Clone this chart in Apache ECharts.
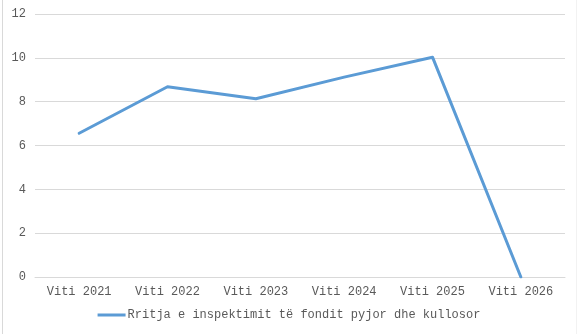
<!DOCTYPE html>
<html>
<head>
<meta charset="utf-8">
<script src="https://cdn.jsdelivr.net/npm/echarts@6/dist/echarts.min.js"></script>
<style>html,body{margin:0;padding:0;background:#fff;}#c{width:578px;height:334px;}</style>
</head>
<body>
<div id="c"></div>
<script>
var categories = ["Viti 2021", "Viti 2022", "Viti 2023", "Viti 2024", "Viti 2025", "Viti 2026"];
var seriesName = "Rritja e inspektimit të fondit pyjor dhe kullosor";
var values = [6.56, 8.68, 8.13, 9.12, 10.03, 0];
var yTicks = { min: 0, max: 12, interval: 2 };

var chart = echarts.init(document.getElementById('c'), null, { renderer: 'canvas' });
var font = '"Liberation Mono", "DejaVu Sans Mono", monospace';
chart.setOption({
  animation: false,
  backgroundColor: '#ffffff',
  textStyle: { fontFamily: font },
  grid: { left: 35, right: 13, top: 14, bottom: 57 },
  xAxis: {
    type: 'category',
    data: categories,
    boundaryGap: true,
    axisLine: { show: true, lineStyle: { color: '#D9D9D9', width: 1 } },
    axisTick: { show: false },
    axisLabel: { color: '#595959', fontSize: 12, fontFamily: font, margin: 9 }
  },
  yAxis: {
    type: 'value',
    min: yTicks.min, max: yTicks.max, interval: yTicks.interval,
    axisLine: { show: false },
    axisTick: { show: false },
    splitLine: { lineStyle: { color: '#D9D9D9', width: 1 } },
    axisLabel: { color: '#595959', fontSize: 12, fontFamily: font, margin: 9 }
  },
  legend: {
    bottom: 8,
    left: 'center',
    itemWidth: 28,
    itemHeight: 3,
    itemGap: 10,
    icon: 'rect',
    textStyle: { color: '#595959', fontSize: 12, fontFamily: font, padding: [0, 0, 0, -3] },
    data: [seriesName]
  },
  graphic: [
    { type: 'line', shape: { x1: 2.5, y1: 0, x2: 2.5, y2: 334 }, style: { stroke: '#D9D9D9', lineWidth: 1 } },
    { type: 'line', shape: { x1: 576.5, y1: 0, x2: 576.5, y2: 334 }, style: { stroke: '#F2F2F2', lineWidth: 1 } }
  ],
  series: [{
    name: seriesName,
    type: 'line',
    data: values,
    symbol: 'none',
    lineStyle: { color: '#5B9BD5', width: 3, cap: 'round', join: 'round' },
    itemStyle: { color: '#5B9BD5' }
  }]
});
</script>
</body>
</html>
